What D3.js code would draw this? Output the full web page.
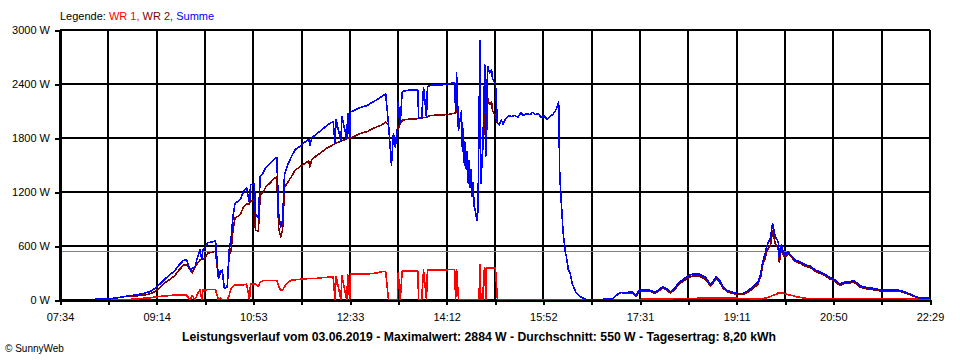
<!DOCTYPE html>
<html><head><meta charset="utf-8">
<script src="https://cdn.jsdelivr.net/npm/d3@7"></script>
<style>
html,body{margin:0;padding:0;background:#fff;}
svg{display:block;}
text{font-family:"Liberation Sans",Arial,sans-serif;font-size:11px;}
</style></head><body>
<svg id="chart" width="960" height="360"></svg>
<script>
// minutes since midnight
const times = [490,503,513,524,528,536,541,547,552,557,562,567,572,577,581,584,588,590,593,595,598,600,601,603,606,610,614,617,619,621,623,626,628,630,632,634,637,640,643,646,649,650,654,655,658,660,663,666,670,674,677,679,681,683,685,689,692,696,701,706,710,711,713,718,724,729,735,737,738,743,744,749,750,752,753,759,764,770,775,780,785,789,792,795,797,799,801,802,804,806,807,814,822,823,826,828,831,832,835,845,852,855,860,861,862,864,867,868,869,870,871,872,873,874,875,876,877,878,879,880,881,882,883,884,885,886,887,888,889,890,891,892,893,894,896,898,899,902,904,906,908,910,912,915,919,922,925,928,931,934,938,940,943,946,949,952,955,958,961,964,966,967,968,969,970,971,972,974,975,977,979,981,983,985,987,991,995,999,1013,1022,1025,1028,1031,1037,1043,1047,1049,1053,1059,1063,1066,1070,1074,1078,1082,1086,1090,1095,1099,1103,1107,1112,1118,1123,1126,1129,1133,1136,1140,1144,1150,1157,1162,1167,1172,1175,1177,1179,1181,1183,1185,1187,1190,1192,1193,1194,1196,1198,1200,1203,1207,1210,1215,1220,1226,1231,1236,1241,1246,1251,1256,1262,1267,1270,1274,1277,1283,1290,1298,1308,1318,1323,1328,1334,1339,1349];
const wr1 = [0,0,0,0,10,15,20,25,35,40,44,50,55,55,55,55,0,50,0,60,111,0,111,111,115,115,115,0,20,0,0,0,50,130,150,165,165,170,170,175,0,180,180,180,150,200,215,215,215,215,215,150,110,110,150,200,222,225,230,235,238,238,240,241,248,252,259,0,262,0,270,0,280,0,289,289,289,289,295,300,315,315,0,0,0,0,0,300,0,320,322,322,322,0,0,330,0,335,335,335,335,340,340,0,340,0,0,0,0,0,0,0,0,0,0,0,0,0,0,0,0,0,0,0,0,389,0,0,0,300,355,0,355,355,355,355,355,355,0,0,0,0,0,0,0,0,0,0,0,0,0,0,0,0,0,0,0,0,0,0,0,0,0,0,0,0,0,0,0,0,0,0,0,0,0,0,0,0,0,0,0,0,0,0,0,0,0,10,12,12,12,12,12,12,12,15,15,15,15,15,18,20,22,22,22,22,22,20,20,20,20,15,15,12,12,12,15,20,25,30,40,50,60,70,80,81,80,75,70,60,50,40,30,20,15,15,15,15,15,15,15,15,15,15,15,15,15,15,15,15,15,15,12,12,12,10,8,5,0,0];
const wr2 = [8,10,25,45,40,50,55,70,95,140,190,230,270,340,385,395,333,300,370,400,444,450,450,470,520,530,540,240,300,330,130,140,500,550,780,910,930,960,1040,1070,1070,1100,1110,780,760,1170,1200,1260,1300,1345,1370,800,700,780,1250,1320,1370,1445,1480,1520,1545,1480,1560,1605,1650,1690,1725,1740,1745,1765,1770,1790,1795,1800,1800,1830,1855,1870,1900,1925,1945,1975,1950,1500,1850,1700,1900,1900,1960,1990,2000,2010,2015,2019,2020,2030,2030,2035,2050,2055,2060,2065,2075,2080,2180,1890,2100,1650,1900,1500,1750,1450,1650,1300,1550,1250,1450,1150,1300,1050,1000,940,889,1000,1900,2495,1300,1500,1700,1850,2256,1600,1900,2240,2170,2200,2100,2050,1963,1945,2000,1950,2010,2044,2040,2050,2030,2080,2050,2070,2060,2085,2060,2070,2030,2045,2010,2040,2060,2110,2160,2204,1444,1200,1037,850,704,520,480,333,290,180,130,80,56,25,8,0,8,12,40,65,82,75,75,40,85,100,100,88,73,100,133,110,78,110,167,210,237,260,270,265,230,158,190,239,190,133,95,80,62,62,90,128,175,266,390,450,530,580,610,771,620,590,560,420,560,500,470,513,470,429,410,380,360,320,295,270,235,210,163,185,190,200,175,141,125,115,100,100,95,80,60,35,20,20];
const summe = [8,10,25,45,50,65,75,95,130,180,234,280,325,395,440,450,333,350,370,460,555,450,561,581,635,645,655,240,320,330,130,140,550,680,930,1075,1095,1130,1210,1245,1070,1280,1290,960,910,1370,1415,1475,1515,1560,1585,950,810,890,1400,1520,1592,1670,1710,1755,1783,1718,1800,1846,1898,1942,1984,1740,2007,1765,2040,1790,2075,1800,2089,2119,2144,2159,2195,2225,2260,2290,1950,1500,1850,1700,1900,2200,1960,2310,2322,2332,2337,2019,2020,2360,2030,2370,2385,2390,2395,2405,2415,2080,2520,1890,2100,1650,1900,1500,1750,1450,1650,1300,1550,1250,1450,1150,1300,1050,1000,940,889,1000,1900,2884,1300,1500,1700,2150,2611,1600,2255,2595,2525,2555,2455,2405,1963,1945,2000,1950,2010,2044,2040,2050,2030,2080,2050,2070,2060,2085,2060,2070,2030,2045,2010,2040,2060,2110,2160,2204,1444,1200,1037,850,704,520,480,333,290,180,130,80,56,25,8,0,8,12,40,65,82,85,87,52,97,112,112,100,85,115,148,125,93,125,185,230,259,282,292,287,252,178,210,259,210,148,110,92,74,74,105,148,200,296,430,500,590,650,690,852,700,665,630,480,610,540,500,533,485,444,425,395,375,335,310,285,250,225,178,200,205,215,190,156,140,130,112,112,107,90,68,40,20,20];

const yTicks = [0, 600, 1200, 1800, 2400, 3000];
const xTickLabels = ["07:34","09:14","10:53","12:33","14:12","15:52","17:31","19:11","20:50","22:29"];
const startMinute = 454, endMinute = 1349;   // 07:34 .. 22:29
const averageW = 550;
const legendLabel = "Legende: ";
const seriesNames = ["WR 1", "WR 2", "Summe"];
const seriesColors = ["#ff0000", "#800000", "#0000ff"];
const titleText = "Leistungsverlauf vom 03.06.2019 - Maximalwert: 2884 W - Durchschnitt: 550 W - Tagesertrag: 8,20 kWh";
const creditText = "\u00A9 SunnyWeb";

const svg = d3.select("#chart");
const L = 60, R = 930, T = 30, B = 300;
const x = d3.scaleLinear().domain([startMinute, endMinute]).range([L, R]);
const y = d3.scaleLinear().domain([0, 3000]).range([B, T]);
const xTickVals = d3.range(19).map(i => startMinute + i * (endMinute - startMinute) / 18);

// grid
const grid = svg.append("g").attr("shape-rendering", "crispEdges");
grid.selectAll("line.h").data(yTicks).join("line").attr("class","h")
  .attr("x1", L).attr("x2", R).attr("y1", d => Math.round(y(d))).attr("y2", d => Math.round(y(d)))
  .attr("stroke", "#000").attr("stroke-width", 2);
grid.selectAll("line.v").data(xTickVals).join("line").attr("class","v")
  .attr("x1", d => Math.round(x(d))).attr("x2", d => Math.round(x(d))).attr("y1", T).attr("y2", B)
  .attr("stroke", "#000").attr("stroke-width", 2);

// average line
svg.append("line").attr("x1", L).attr("x2", R)
  .attr("y1", Math.round(y(averageW)) + 0.5).attr("y2", Math.round(y(averageW)) + 0.5)
  .attr("stroke", "#808080").attr("stroke-width", 1).attr("shape-rendering", "crispEdges");

// series
const seriesData = [wr1, wr2, summe];
const line = d3.line().x(d => x(d.t)).y(d => y(d.v)).curve(d3.curveLinear);
seriesData.forEach((vals, k) => {
  const pts = times.map((t, i) => ({t, v: vals[i]}));
  svg.append("path").datum(pts).attr("d", line)
    .attr("fill", "none").attr("stroke", seriesColors[k]).attr("stroke-width", 1.6)
    .attr("stroke-linejoin", "round")
    .attr("shape-rendering", "crispEdges");
});

// axes
const yAxis = svg.append("g").attr("transform", `translate(${L},0)`)
  .call(d3.axisLeft(y).tickValues(yTicks).tickSize(5).tickSizeOuter(0).tickPadding(5).tickFormat(d => d + " W"));
const xAxis = svg.append("g").attr("transform", `translate(0,${B})`)
  .call(d3.axisBottom(x).tickValues(xTickVals).tickSize(5).tickSizeOuter(0).tickPadding(8)
    .tickFormat((d, i) => i % 2 === 0 ? xTickLabels[i / 2] : ""));
[yAxis, xAxis].forEach(g => {
  g.attr("shape-rendering", "crispEdges");
  g.select(".domain").attr("stroke", "#000").attr("stroke-width", 2);
  g.selectAll(".tick line").attr("stroke", "#000").attr("stroke-width", 2);
  g.selectAll("text").attr("fill", "#000").style("font-family", "'Liberation Sans', Arial, sans-serif").style("font-size", "11px");
});

// legend
const leg = svg.append("text").attr("x", 60).attr("y", 20);
leg.append("tspan").attr("fill", "#000").text(legendLabel);
seriesNames.forEach((n, i) => {
  leg.append("tspan").attr("fill", seriesColors[i]).text(n + (i < seriesNames.length - 1 ? ", " : ""));
});

// title
svg.append("text").attr("x", 479).attr("y", 341).attr("text-anchor", "middle")
  .attr("textLength", 594).attr("lengthAdjust", "spacingAndGlyphs")
  .style("font-family", "'Liberation Sans Narrow', 'Arial Narrow', sans-serif")
  .style("font-weight", "bold").style("font-size", "12.5px").text(titleText);

svg.append("text").attr("x", 5).attr("y", 352)
  .style("font-family", "'Liberation Sans Narrow', 'Arial Narrow', sans-serif")
  .style("font-size", "10px").text(creditText);
</script>
</body></html>
